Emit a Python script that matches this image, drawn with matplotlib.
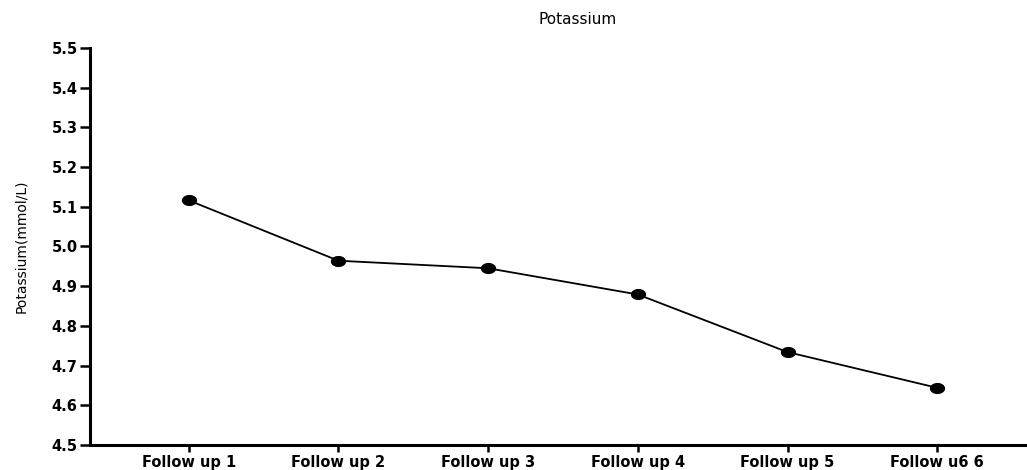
import numpy as np
import matplotlib.pyplot as plt
from matplotlib.path import Path

# Données
visits = ["Follow up 1", "Follow up 2", "Follow up 3", "Follow up 4", "Follow up 5", "Follow u6 6"]
potassium = [5.116, 4.964, 4.945, 4.879, 4.734, 4.644]
y_ticks = [4.5, 4.6, 4.7, 4.8, 4.9, 5.0, 5.1, 5.2, 5.3, 5.4, 5.5]

plt.rcParams['font.family'] = ['Liberation Sans', 'DejaVu Sans']

# marqueur elliptique (points étirés horizontalement)
t = np.linspace(0, 2 * np.pi, 40)
ellipse = Path(np.column_stack([np.cos(t), 0.7 * np.sin(t)]), closed=True)

fig = plt.figure(figsize=(10.27, 4.70), dpi=100)
ax = fig.add_axes([0.0876, 0.0532, 0.9124, 0.845])

x = np.arange(len(visits))
ax.plot(x, potassium, color='black', linewidth=1.3, marker=ellipse, markersize=10)

ax.set_xlim(-0.66, 5.6)
ax.set_ylim(4.5, 5.5)
ax.set_xticks(x)
ax.set_xticklabels(visits, fontsize=10.5, fontweight='heavy', family=['DejaVu Sans'])
ax.set_yticks(y_ticks)
ax.set_yticklabels([f"{v:.1f}" for v in y_ticks], fontsize=10.5, fontweight='heavy',
                   family=['DejaVu Sans'])

for side in ['top', 'right']:
    ax.spines[side].set_visible(False)
for side in ['left', 'bottom']:
    ax.spines[side].set_linewidth(2.2)

ax.tick_params(axis='y', length=7, width=1.8, pad=2)
ax.tick_params(axis='x', length=5, width=1.8, pad=2)

fig.text(0.021, 0.477, "Potassium(mmol/L)", rotation=90, ha='center', va='center',
         fontsize=10, family=['DejaVu Sans'])
fig.text(0.562, 0.958, "Potassium", ha='center', va='center', fontsize=11,
         family=['DejaVu Sans'])

plt.savefig("out.png", dpi=100)
